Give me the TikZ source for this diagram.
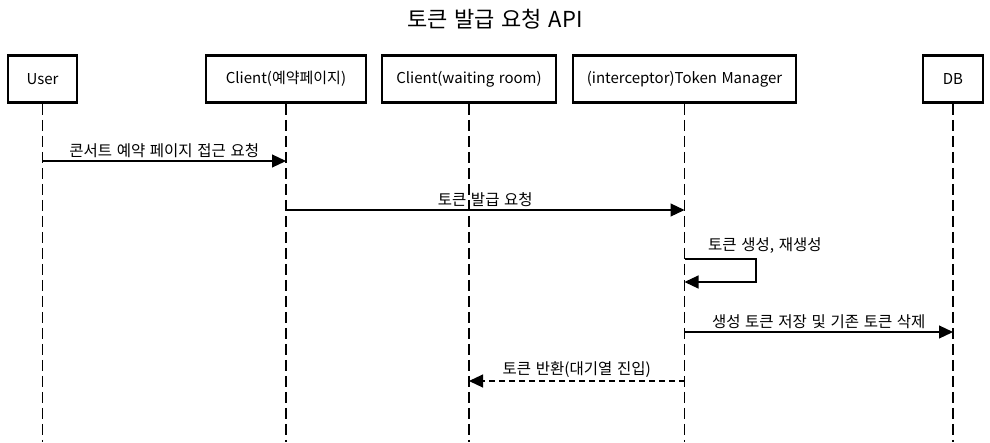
\documentclass[tikz,border=0pt]{standalone}
\usepackage{fontspec}
\setmainfont{Noto Sans CJK KR}[WordSpace=1.35]
\usetikzlibrary{arrows.meta}
\tikzset{
  actor/.style={draw, line width=2.6pt, minimum height=47pt, inner sep=0pt, font=\fontsize{15}{17}\selectfont},
  life/.style={line width=1.2pt, dash pattern=on 11pt off 5pt},
  msg/.style={line width=1.1pt, -{Triangle[length=14pt,width=13pt]}},
  ret/.style={msg, dash pattern=on 6pt off 4pt},
  lbl/.style={font=\fontsize{15.5}{17}\selectfont, inner sep=1pt},
}
\begin{document}
\begin{tikzpicture}[x=1pt,y=-1pt]
\useasboundingbox (0,0) rectangle (990,442);
\node[font=\fontsize{22}{24}\selectfont] (title) at (495,19) {토큰 발급 요청 API};
\node[actor, minimum width=69pt] (u) at (42.5,79) {User};
\node[actor, minimum width=160pt] (c1) at (286,79) {Client(예약페이지)};
\node[actor, minimum width=174pt] (c2) at (469,79) {Client(waiting room)};
\node[actor, minimum width=223pt] (tm) at (684.5,79) {(interceptor)Token Manager};
\node[actor, minimum width=60pt] (db) at (953,79) {DB};
\foreach \n in {u,c1,c2,tm,db}{
  \coordinate (\n-end) at (\n.south |- 0,442);
  \draw[life] (\n.south) -- (\n-end);
}
% message points
\coordinate (m1a) at (u.south |- 0,161);
\coordinate (m1b) at (c1.south |- 0,161);
\coordinate (m2a) at (c1.south |- 0,210);
\coordinate (m2b) at (tm.south |- 0,210);
\coordinate (m3a) at (tm.south |- 0,259);
\coordinate (m3c) at (756,259);
\coordinate (m3d) at (756,282);
\coordinate (m3b) at (tm.south |- 0,282);
\coordinate (m4a) at (tm.south |- 0,332);
\coordinate (m4b) at (db.south |- 0,332);
\coordinate (m5a) at (tm.south |- 0,381);
\coordinate (m5b) at (c2.south |- 0,381);

\draw[msg] (m1a) -- node[lbl, above=2pt] (l1) {콘서트 예약 페이지 접근 요청} (m1b);
\draw[msg] (m2a) -- node[lbl, above=2pt] (l2) {토큰 발급 요청} (m2b);
\draw[msg] (m3a) -- (m3c) -- (m3d) -- (m3b);
\node[lbl, anchor=south west] (l3) at (707,255) {토큰 생성, 재생성};
\draw[msg] (m4a) -- node[lbl, above=2pt] (l4) {생성 토큰 저장 및 기존 토큰 삭제} (m4b);
\draw[ret] (m5a) -- node[lbl, above=2pt] (l5) {토큰 반환(대기열 진입)} (m5b);
\end{tikzpicture}
\end{document}
